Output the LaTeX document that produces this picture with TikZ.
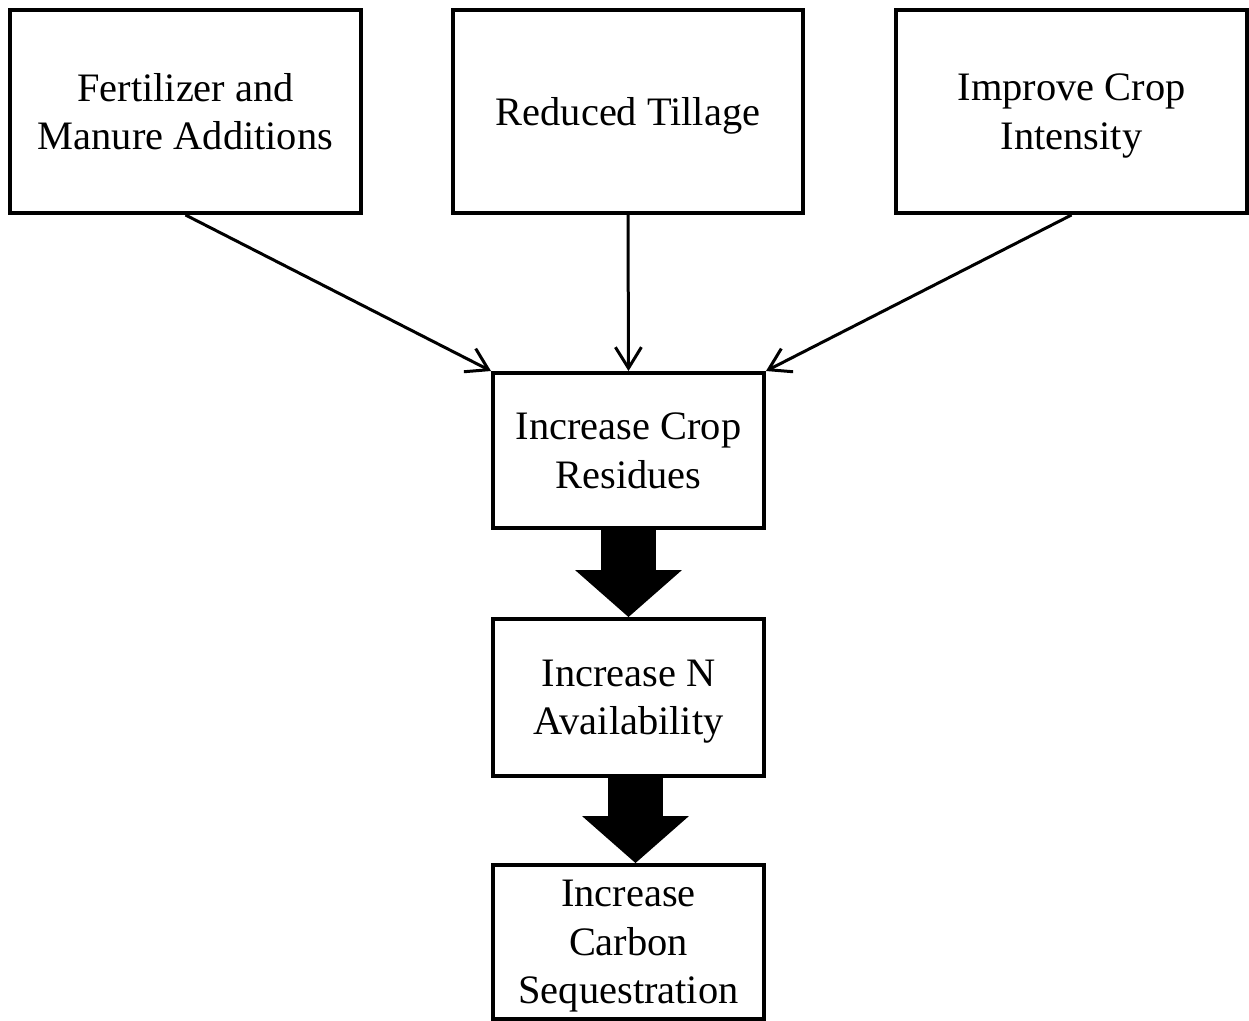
\documentclass[tikz,border=0pt]{standalone}
\usepackage{fontspec}
\setmainfont{Liberation Serif}
\usetikzlibrary{positioning, arrows.meta}

\begin{document}
\begin{tikzpicture}[x=0.02cm, y=-0.02cm,
  box/.style={draw, line width=0.08cm, align=center, inner sep=0pt, text depth=-1pt, font=\fontsize{23}{27.5}\selectfont},
  topbox/.style={box, minimum width=7.02cm, minimum height=4.06cm},
  midbox/.style={box, minimum width=5.42cm, minimum height=3.1cm},
  thinarrow/.style={line width=0.06cm, -{Straight Barb[length=0.42cm, width=0.52cm]}},
  fatarrow/.style={line width=1.1cm, -{Triangle[width=2.14cm, length=0.94cm, line width=0pt]}}]
  \useasboundingbox (0,0) rectangle (1249,1021);

  \node[topbox] (fert) at (185.5,111.5) {Fertilizer and\\Manure Additions};
  \node[topbox] (till) at (628,111.5) {Reduced Tillage};
  \node[topbox] (inten) at (1071.5,111.5) {Improve Crop\\Intensity};

  \node[midbox] (resid) at (628.5,450.5) {Increase Crop\\Residues};
  \node[midbox, minimum height=3.14cm] (navail) at (628.5,697.5) {Increase N\\Availability};
  \node[midbox, minimum height=3.08cm] (carbon) at (628.5,942) {Increase\\Carbon\\Sequestration};

  \path[thinarrow]
    (fert.south) edge (resid.north west)
    (till.south) edge (resid.north)
    (inten.south) edge (resid.north east);

  \draw[fatarrow] (resid.south) -- (navail.north);
  \draw[fatarrow] ([xshift=0.14cm]navail.south) -- ([xshift=0.14cm]carbon.north);
\end{tikzpicture}
\end{document}
